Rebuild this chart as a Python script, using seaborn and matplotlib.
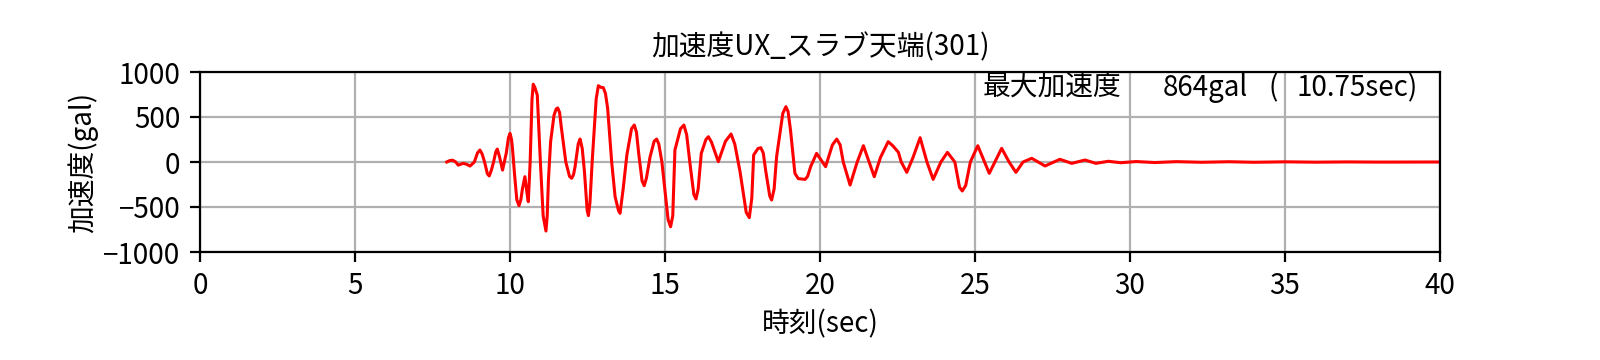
import numpy as np
import pandas as pd
import matplotlib
matplotlib.use("Agg")
import matplotlib.pyplot as plt
import seaborn as sns

# ---- data ----
time_sec = [7.96, 8.05, 8.15, 8.25, 8.33, 8.49, 8.6, 8.71, 8.85, 8.95, 9.03, 9.1, 9.18,
            9.27, 9.33, 9.4, 9.47, 9.54, 9.59, 9.66, 9.76, 9.88, 9.95,
            10.0, 10.05, 10.08, 10.15, 10.22, 10.29, 10.35, 10.4, 10.48, 10.55, 10.59,
            10.65, 10.71, 10.75, 10.8, 10.88, 10.98, 11.07,
            11.16, 11.2, 11.24, 11.31, 11.42, 11.49, 11.54, 11.6, 11.65, 11.8, 11.92,
            11.99, 12.05, 12.1, 12.2, 12.26, 12.33, 12.4,
            12.49, 12.53, 12.58, 12.65, 12.78, 12.85, 12.93, 13.01, 13.08, 13.15, 13.28,
            13.39, 13.5, 13.55, 13.65, 13.77, 13.92, 14.01, 14.08,
            14.15, 14.26, 14.33, 14.4, 14.52, 14.65, 14.73, 14.8, 14.9, 15.1, 15.18, 15.25,
            15.32, 15.5, 15.61, 15.7, 15.8, 15.93, 16.0, 16.07, 16.17,
            16.32, 16.4, 16.5, 16.72, 16.95, 17.13, 17.25, 17.42, 17.62, 17.72, 17.8, 17.86,
            18.0, 18.09, 18.17, 18.25, 18.38, 18.44, 18.52, 18.6, 18.8, 18.9,
            18.97, 19.05, 19.19, 19.3, 19.52, 19.6, 19.7, 19.89, 20.18, 20.4, 20.54, 20.65,
            20.75, 20.97, 21.2, 21.4,
            21.75, 21.95, 22.2, 22.35, 22.53, 22.62, 22.8, 23.0, 23.23, 23.45, 23.65, 23.9,
            24.11, 24.35, 24.5, 24.59, 24.7, 24.85, 25.09, 25.46, 25.86, 26.1, 26.32, 26.55,
            26.83, 27.26, 27.74, 28.12, 28.55, 28.9, 29.3, 29.7, 30.2, 30.8, 31.5, 32.3,
            33.2, 34.0, 35.0, 36.0, 37.0, 38.0, 40.0]
accel_gal = [0, 15, 20, 0, -35, -15, -25, -45, 0, 100, 133, 90, 0,
             -130, -155, -90, 0, 110, 144, 60, -90, 100, 270,
             318, 250, 150, -150, -420, -485, -420, -300, -163, -350, -441,
             0, 700, 864, 830, 744, 0, -600,
             -767, -600, -200, 226, 520, 590, 600, 550, 400, 0, -160,
             -181, -140, -50, 200, 255, 150, -100,
             -540, -596, -450, 0, 700, 848, 830, 826, 760, 596, 0,
             -385, -540, -570, -300, 78, 370, 411, 330,
             100, -210, -263, -180, 59, 230, 255, 200, 0, -640, -720, -600,
             133, 370, 411, 300, 0, -360, -411, -300, 96,
             250, 281, 220, 4, 230, 311, 200, -107, -560, -618, -400, 78,
             150, 159, 100, -100, -380, -422, -300, 59, 540, 615,
             560, 350, -126, -185, -193, -160, -50, 96, -52, 190, 255, 190,
             0, -256, 0, 181,
             -163, 50, 226, 180, 107, 0, -115, 50, 270, 0, -193, 0,
             107, 0, -280, -322, -260, 0, 181, -126, 152, 0, -115, 0,
             41, -44, 30, -15, 22, -15, 8, -8, 5, -6, 4, -3,
             3, -3, 2, -2, 1, -1, 0]

title_text = "加速度UX_スラブ天端(301)"
xlabel_text = "時刻(sec)"
ylabel_text = "加速度(gal)"
peak_label = "最大加速度"
x_ticks = [0, 5, 10, 15, 20, 25, 30, 35, 40]
y_ticks = [-1000, -500, 0, 500, 1000]

df = pd.DataFrame({"t": time_sec, "a": accel_gal})

plt.rcParams["font.family"] = ["Noto Sans CJK JP", "DejaVu Sans"]
plt.rcParams["font.size"] = 10
plt.rcParams["axes.unicode_minus"] = True

fig = plt.figure(figsize=(8, 1.8), dpi=200)
ax = fig.add_axes([0.125, 0.3, 0.775, 0.5])

ax.grid(True, color="#b0b0b0", linewidth=0.8, zorder=0)
ax.axhline(0, color="black", linewidth=0.6, zorder=1)
sns.lineplot(data=df, x="t", y="a", color="red", linewidth=1.1, ax=ax, zorder=3,
             sort=False, estimator=None)
for ln in ax.lines:
    ln.set_solid_joinstyle("round")

ax.set_xlim(0, 40)
ax.set_ylim(-1000, 1000)
ax.set_xticks(x_ticks)
ax.set_yticks(y_ticks)
ax.set_title(title_text, fontsize=10)
ax.set_xlabel(xlabel_text, fontsize=10, labelpad=3)
ax.set_ylabel(ylabel_text, fontsize=10, labelpad=2)
for sp in ax.spines.values():
    sp.set_linewidth(0.8)
    sp.set_zorder(4)

# peak annotation computed from the data
arr = np.array(accel_gal)
i = int(np.argmax(np.abs(arr)))
pk_val = abs(arr[i])
pk_t = time_sec[i]
ytxt = 0.995
ax.text(0.631, ytxt, peak_label, transform=ax.transAxes, ha="left", va="top",
        fontsize=10, zorder=5)
ax.text(0.845, ytxt, f"{pk_val:.0f}gal", transform=ax.transAxes, ha="right", va="top",
        fontsize=10, zorder=5)
ax.text(0.862, ytxt, "(", transform=ax.transAxes, ha="left", va="top",
        fontsize=10, zorder=5)
ax.text(0.982, ytxt, f"{pk_t:.2f}sec)", transform=ax.transAxes, ha="right", va="top",
        fontsize=10, zorder=5)

fig.savefig("out.png", dpi=200)
